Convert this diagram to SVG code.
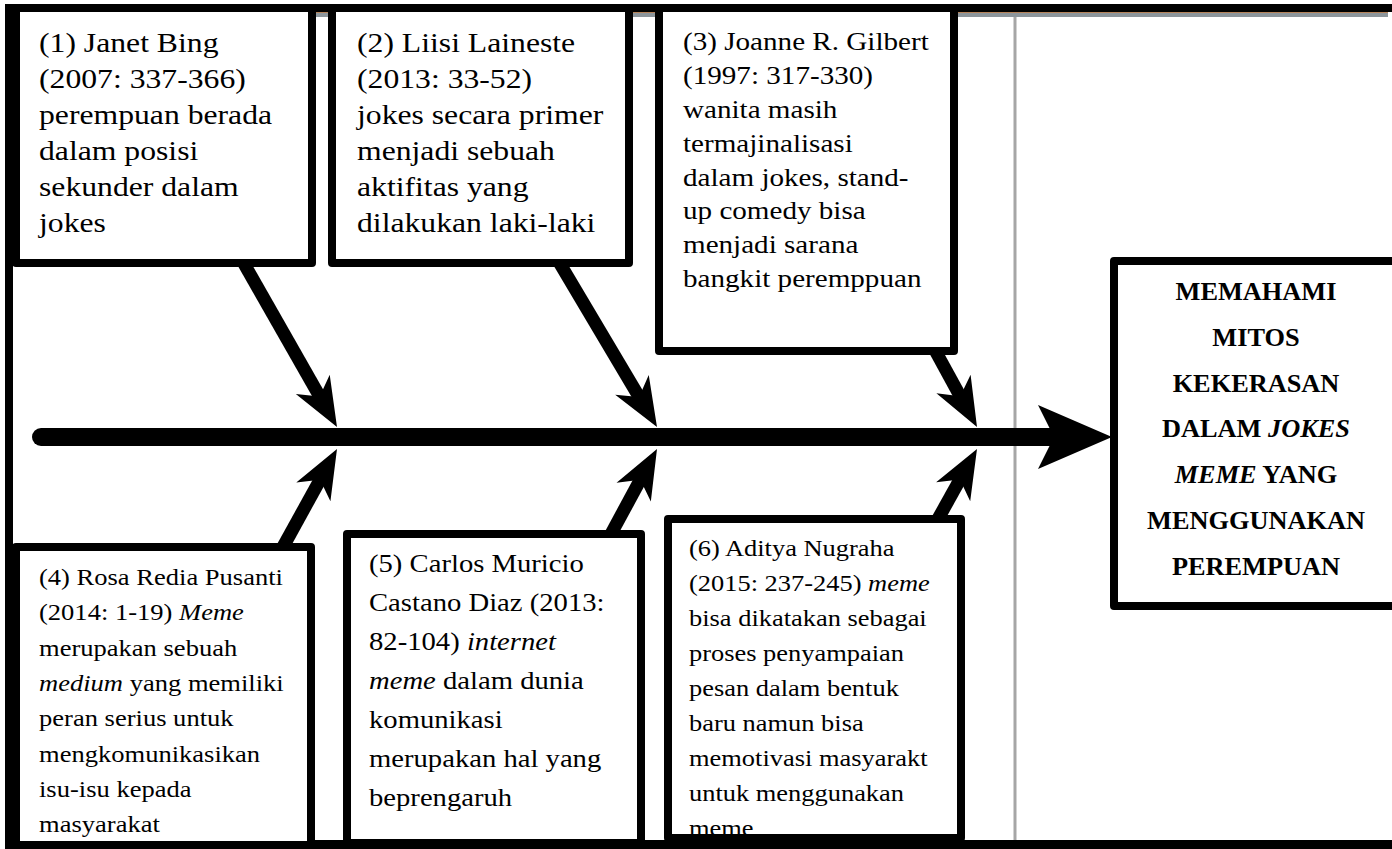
<svg xmlns="http://www.w3.org/2000/svg" xmlns:xlink="http://www.w3.org/1999/xlink" width="1392" height="849" viewBox="0 0 1392 849">
<style>
.box{fill:#fff;stroke:#000;stroke-width:8;stroke-linejoin:round}
.t{font-family:"Liberation Serif","Times New Roman",serif;fill:#000}
.tb{font-family:"Liberation Serif","Times New Roman",serif;font-weight:bold;fill:#000;text-anchor:middle}
.branch{stroke:#000;stroke-width:13;fill:none}
.i{font-style:italic}
</style>
<defs>
<path id="ah" d="M0,0 L-49,-19.5 L-35,0 L-49,19.5 Z" fill="#000"/>
<clipPath id="c6"><rect x="672" y="523" width="285" height="311"/></clipPath>
</defs>
<rect x="0" y="0" width="1392" height="849" fill="#fff"/>
<g id="frame">
<rect x="5" y="12" width="1383" height="5" fill="#8c959b"/>
<rect x="5" y="12" width="1383" height="1" fill="#b5835a"/>
<rect x="5" y="4" width="1387" height="8" fill="#000"/>
<rect x="5" y="4" width="8" height="845" fill="#000"/>
<rect x="1013.5" y="17" width="3" height="823" fill="#a6a6a6"/>
<rect x="5" y="840" width="1387" height="9" fill="#000"/>
</g>
<g id="connectors">
<line x1="41" y1="437" x2="1058" y2="437" stroke="#000" stroke-width="18" stroke-linecap="round"/>
<polygon points="1112,437 1038,405 1054,437 1038,469" fill="#000"/>
<line class="branch" x1="242" y1="260" x2="322.2" y2="400.9"/>
<use xlink:href="#ah" href="#ah" transform="translate(337,427) rotate(60.37)"/>
<line class="branch" x1="559" y1="262" x2="641.7" y2="401.2"/>
<use xlink:href="#ah" href="#ah" transform="translate(657,427) rotate(59.29)"/>
<line class="branch" x1="936" y1="352" x2="962.6" y2="400.7"/>
<use xlink:href="#ah" href="#ah" transform="translate(977,427) rotate(61.33)"/>
<line class="branch" x1="283" y1="547" x2="322.5" y2="475.3"/>
<use xlink:href="#ah" href="#ah" transform="translate(337,449) rotate(-61.14)"/>
<line class="branch" x1="611" y1="534" x2="642.7" y2="475.4"/>
<use xlink:href="#ah" href="#ah" transform="translate(657,449) rotate(-61.58)"/>
<line class="branch" x1="938" y1="519" x2="962.4" y2="475.2"/>
<use xlink:href="#ah" href="#ah" transform="translate(977,449) rotate(-60.88)"/>
</g>
<g id="node1">
<rect class="box" x="16" y="8" width="296" height="255"/>
<g transform="translate(39,0) scale(1.12,1)" class="t" font-size="28.3">
<text x="0" y="52">(1) Janet Bing</text>
<text x="0" y="88">(2007: 337-366)</text>
<text x="0" y="124">perempuan berada</text>
<text x="0" y="160">dalam posisi</text>
<text x="0" y="196">sekunder dalam</text>
<text x="0" y="232">jokes</text>
</g>
</g>
<g id="node2">
<rect class="box" x="332" y="8" width="297" height="255"/>
<g transform="translate(357,0) scale(1.12,1)" class="t" font-size="28.3">
<text x="0" y="52">(2) Liisi Laineste</text>
<text x="0" y="88">(2013: 33-52)</text>
<text x="0" y="124">jokes secara primer</text>
<text x="0" y="160">menjadi sebuah</text>
<text x="0" y="196">aktifitas yang</text>
<text x="0" y="232">dilakukan laki-laki</text>
</g>
</g>
<g id="node3">
<rect class="box" x="659" y="8" width="295" height="343"/>
<g transform="translate(683,0) scale(1.12,1)" class="t" font-size="26">
<text x="0" y="50">(3) Joanne R. Gilbert</text>
<text x="0" y="84">(1997: 317-330)</text>
<text x="0" y="118">wanita masih</text>
<text x="0" y="152">termajinalisasi</text>
<text x="0" y="186">dalam jokes, stand-</text>
<text x="0" y="219">up comedy bisa</text>
<text x="0" y="253">menjadi sarana</text>
<text x="0" y="287">bangkit peremppuan</text>
</g>
</g>
<g id="node4">
<rect class="box" x="16" y="547" width="295" height="298"/>
<g transform="translate(39,0) scale(1.12,1)" class="t" font-size="23.7">
<text x="0" y="585">(4) Rosa Redia Pusanti</text>
<text x="0" y="620.3">(2014: 1-19) <tspan class="i">Meme</tspan></text>
<text x="0" y="655.6">merupakan sebuah</text>
<text x="0" y="691"><tspan class="i">medium</tspan> yang memiliki</text>
<text x="0" y="726">peran serius untuk</text>
<text x="0" y="761.6">mengkomunikasikan</text>
<text x="0" y="797">isu-isu kepada</text>
<text x="0" y="832">masyarakat</text>
</g>
</g>
<g id="node5">
<rect class="box" x="347" y="534" width="294" height="309"/>
<g transform="translate(369,0) scale(1.12,1)" class="t" font-size="25.6">
<text x="0" y="572">(5) Carlos Muricio</text>
<text x="0" y="611">Castano Diaz (2013:</text>
<text x="0" y="650">82-104) <tspan class="i">internet</tspan></text>
<text x="0" y="689"><tspan class="i">meme</tspan> dalam dunia</text>
<text x="0" y="728">komunikasi</text>
<text x="0" y="767">merupakan hal yang</text>
<text x="0" y="806">beprengaruh</text>
</g>
</g>
<g id="node6">
<rect class="box" x="668" y="519" width="293" height="319"/>
<g clip-path="url(#c6)">
<g transform="translate(689,0) scale(1.12,1)" class="t" font-size="23.6">
<text x="0" y="556">(6) Aditya Nugraha</text>
<text x="0" y="591">(2015: 237-245) <tspan class="i">meme</tspan></text>
<text x="0" y="626">bisa dikatakan sebagai</text>
<text x="0" y="661">proses penyampaian</text>
<text x="0" y="696">pesan dalam bentuk</text>
<text x="0" y="731">baru namun bisa</text>
<text x="0" y="766">memotivasi masyarakt</text>
<text x="0" y="801">untuk menggunakan</text>
<text x="0" y="836">meme</text>
</g>
</g>
</g>
<g id="title">
<rect class="box" x="1114" y="261" width="290" height="345"/>
<g transform="translate(1256,0) scale(1.075,1)" class="tb" font-size="24.5">
<text x="0" y="300">MEMAHAMI</text>
<text x="0" y="345.8">MITOS</text>
<text x="0" y="391.7">KEKERASAN</text>
<text x="0" y="437.5">DALAM <tspan class="i">JOKES</tspan></text>
<text x="0" y="483.3"><tspan class="i">MEME</tspan> YANG</text>
<text x="0" y="529.2">MENGGUNAKAN</text>
<text x="0" y="575">PEREMPUAN</text>
</g>
</g>
</svg>
